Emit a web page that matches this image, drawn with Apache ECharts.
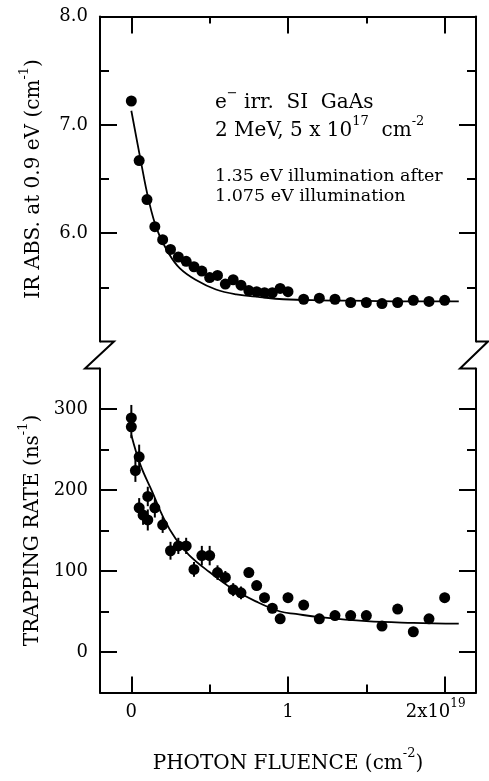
<!DOCTYPE html>
<html><head><meta charset="utf-8">
<script src="https://cdn.jsdelivr.net/npm/echarts@6/dist/echarts.min.js"></script>
<style>html,body{margin:0;padding:0;background:#fff}#c{width:489px;height:781px}</style>
</head><body><div id="c"></div>
<script>
// ---- data ----
const topX = [0, 0.05, 0.10, 0.15, 0.20, 0.25, 0.30, 0.35, 0.40, 0.45, 0.50, 0.55, 0.60, 0.65, 0.70, 0.75, 0.80, 0.85, 0.90, 0.95, 1.00, 1.10, 1.20, 1.30, 1.40, 1.50, 1.60, 1.70, 1.80, 1.90, 2.00];
const topY = [7.22, 6.67, 6.31, 6.06, 5.94, 5.85, 5.78, 5.74, 5.69, 5.65, 5.59, 5.61, 5.53, 5.57, 5.52, 5.47, 5.46, 5.45, 5.45, 5.49, 5.46, 5.39, 5.40, 5.39, 5.36, 5.36, 5.35, 5.36, 5.38, 5.37, 5.38];
const topFitX = [0, 0.06, 0.11, 0.165, 0.24, 0.31, 0.41, 0.54, 0.67, 0.82, 0.97, 1.2, 1.5, 1.8, 2.09];
const topFitY = [7.13, 6.67, 6.31, 6.03, 5.81, 5.675, 5.57, 5.48, 5.435, 5.41, 5.39, 5.38, 5.375, 5.37, 5.37];

const botX = [0, 0, 0.026, 0.05, 0.05, 0.075, 0.105, 0.105, 0.15, 0.20, 0.25, 0.30, 0.35, 0.40, 0.45, 0.50, 0.55, 0.60, 0.65, 0.70, 0.75, 0.80, 0.85, 0.90, 0.95, 1.0, 1.1, 1.2, 1.3, 1.4, 1.5, 1.6, 1.7, 1.8, 1.9, 2.0];
const botY = [289, 278, 224, 241, 178, 169, 163, 192, 178, 157, 125, 131, 131, 102, 119, 119, 98, 92, 77, 73, 98, 82, 67, 54, 41, 67, 58, 41, 45, 45, 45, 32, 53, 25, 41, 67];
const botErr = [16, 14, 14, 15, 12, 12, 13, 12, 12, 10, 11, 10, 10, 9, 12, 12, 9, 8, 8, 8, 6, 6, 6, 6, 6, 6, 6, 6, 6, 6, 6, 6, 6, 6, 6, 6];
const botFitX = [0, 0.058, 0.133, 0.207, 0.282, 0.367, 0.496, 0.645, 0.795, 0.95, 1.05, 1.2, 1.5, 1.8, 2.09];
const botFitY = [268, 231, 198, 165, 140, 120, 99, 78, 62.5, 50, 47, 43, 38, 36, 35];

const xMajorTicks = [0, 1, 2];
const xMinorTicks = [0.5, 1.5];
const xTickLabels = {0: '{n|0}', 1: '{n|1}', 2: '{n|2x10}{t|19}'};
const topYMajor = [6, 7, 8];
const topYMinor = [5.5, 6.5, 7.5];
const botYMajor = [0, 100, 200, 300];
const botYMinor = [50, 150, 250];

const topYName = '{n|IR ABS. at 0.9 eV (cm}{s|-1}{n|)}';
const botYName = '{n|TRAPPING RATE (ns}{s|-1}{n|)}';
const xName = '{n|PHOTON FLUENCE (cm}{s|-2}{n|)}';
const noteLines = [
  '{n|e}{s|−}{n| irr.  SI  GaAs}',
  '{n|2 MeV, 5 x 10}{s|17}{n|  cm}{s|-2}',
  '{m|1.35 eV illumination after}',
  '{m|1.075 eV illumination}'
];

// ---- layout ----
const FONT = 'DejaVu Serif';
const L = 100, R = 13, W = 489 - L - R;
const topTop = 16.5, topH = 325;
const botTop = 368.5, botH = 324;
const black = '#000';
const lineW = 2;

const richBig = {
  n: {fontFamily: FONT, fontSize: 20, color: black, lineHeight: 26, verticalAlign: 'bottom'},
  s: {fontFamily: FONT, fontSize: 13, color: black, lineHeight: 14, verticalAlign: 'top'},
  m: {fontFamily: FONT, fontSize: 17.5, color: black, lineHeight: 22, verticalAlign: 'bottom'}
};
const richTick = {
  n: {fontFamily: FONT, fontSize: 18, color: black, lineHeight: 24, verticalAlign: 'bottom'},
  t: {fontFamily: FONT, fontSize: 12, color: black, lineHeight: 13, verticalAlign: 'top', padding: [0, 18, 0, 0]}
};

const chart = echarts.init(document.getElementById('c'), null, {renderer: 'canvas'});

function xAx(grid, pos, ticks, len, showLine, labels) {
  return {
    type: 'value', gridIndex: grid, position: pos, min: -0.2, max: 2.2,
    axisLine: {show: showLine, onZero: false, lineStyle: {color: black, width: lineW}},
    axisTick: {show: true, inside: true, length: len, customValues: ticks, lineStyle: {color: black, width: lineW}},
    axisLabel: labels ? {show: true, customValues: xMajorTicks, formatter: v => xTickLabels[Math.round(v)] ?? '', rich: richTick, margin: 5} : {show: false},
    splitLine: {show: false},
    name: labels ? xName : '', nameLocation: 'middle', nameGap: 55,
    nameTextStyle: {rich: richBig}
  };
}
function yAx(grid, pos, min, max, interval, ticks, len, showLine, labels, name, fmt) {
  return {
    type: 'value', gridIndex: grid, position: pos, min: min, max: max, interval: interval,
    axisLine: {show: showLine, onZero: false, lineStyle: {color: black, width: lineW}},
    axisTick: {show: true, inside: true, length: len, customValues: ticks, lineStyle: {color: black, width: lineW}},
    axisLabel: labels ? {show: true, customValues: labels, formatter: fmt, color: black, fontFamily: FONT, fontSize: 18, margin: 12} : {show: false},
    splitLine: {show: false},
    name: name || '', nameLocation: 'middle', nameGap: 56,
    nameTextStyle: {rich: richBig}
  };
}

const option = {
  animation: false,
  backgroundColor: '#fff',
  grid: [
    {left: L, right: R, top: topTop, height: topH},
    {left: L, right: R, top: botTop, height: botH}
  ],
  xAxis: [
    xAx(0, 'top', xMajorTicks, 17, true, false),
    xAx(0, 'top', xMinorTicks, 7, false, false),
    xAx(1, 'bottom', xMajorTicks, 16, true, true),
    xAx(1, 'bottom', xMinorTicks, 8, false, false)
  ],
  yAxis: [
    yAx(0, 'left', 5, 8, 0.5, topYMajor, 17, true, topYMajor, topYName, v => v.toFixed(1)),
    yAx(0, 'left', 5, 8, 0.5, topYMinor, 9, false, null),
    yAx(0, 'right', 5, 8, 0.5, topYMajor, 17, true, null),
    yAx(0, 'right', 5, 8, 0.5, topYMinor, 9, false, null),
    yAx(1, 'left', -50, 350, 50, botYMajor, 17, true, botYMajor, botYName, v => String(v)),
    yAx(1, 'left', -50, 350, 50, botYMinor, 9, false, null),
    yAx(1, 'right', -50, 350, 50, botYMajor, 17, true, null),
    yAx(1, 'right', -50, 350, 50, botYMinor, 9, false, null)
  ],
  series: [
    {type: 'line', xAxisIndex: 0, yAxisIndex: 0, data: topFitX.map((x, i) => [x, topFitY[i]]),
     smooth: 0.4, showSymbol: false, lineStyle: {color: black, width: 1.8}, z: 2},
    {type: 'scatter', xAxisIndex: 0, yAxisIndex: 0, data: topX.map((x, i) => [x, topY[i]]),
     symbol: 'circle', symbolSize: 11, itemStyle: {color: black, opacity: 1}, z: 3},
    {type: 'custom', xAxisIndex: 2, yAxisIndex: 4, data: botX.map((x, i) => [x, botY[i], botErr[i]]),
     encode: {x: 0, y: 1}, z: 2,
     renderItem: (params, api) => {
       const x = api.value(0), y = api.value(1), e = api.value(2);
       const p1 = api.coord([x, y - e]), p2 = api.coord([x, y + e]);
       return {type: 'line', shape: {x1: p1[0], y1: p1[1], x2: p2[0], y2: p2[1]}, style: {stroke: black, lineWidth: 2}};
     }},
    {type: 'line', xAxisIndex: 2, yAxisIndex: 4, data: botFitX.map((x, i) => [x, botFitY[i]]),
     smooth: 0.4, showSymbol: false, lineStyle: {color: black, width: 1.8}, z: 2},
    {type: 'scatter', xAxisIndex: 2, yAxisIndex: 4, data: botX.map((x, i) => [x, botY[i]]),
     symbol: 'circle', symbolSize: 11, itemStyle: {color: black, opacity: 1}, z: 3}
  ],
  graphic: [
    // axis break marks (decoration)
    {type: 'polyline', shape: {points: [[L, topTop + topH], [L + 14, topTop + topH], [L - 15, botTop], [L, botTop]]},
     style: {stroke: black, lineWidth: lineW, fill: null}},
    {type: 'polyline', shape: {points: [[L + W, topTop + topH], [L + W + 12, topTop + topH], [L + W - 16, botTop], [L + W, botTop]]},
     style: {stroke: black, lineWidth: lineW, fill: null}},
    {type: 'text', x: 215, y: 100, style: {text: noteLines[0], rich: richBig, textVerticalAlign: 'middle'}},
    {type: 'text', x: 215, y: 128, style: {text: noteLines[1], rich: richBig, textVerticalAlign: 'middle'}},
    {type: 'text', x: 215, y: 174, style: {text: noteLines[2], rich: richBig, textVerticalAlign: 'middle'}},
    {type: 'text', x: 215, y: 194, style: {text: noteLines[3], rich: richBig, textVerticalAlign: 'middle'}}
  ]
};
chart.setOption(option);
</script></body></html>
